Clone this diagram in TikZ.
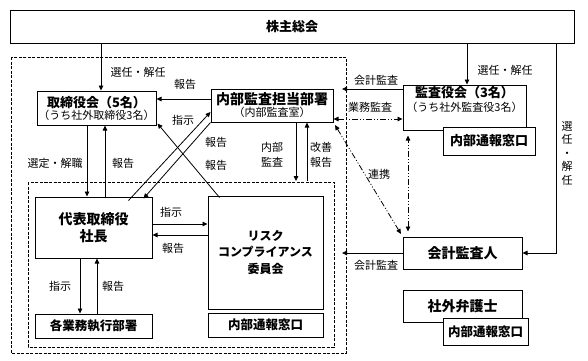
\documentclass[tikz,border=0pt]{standalone}
\usepackage{fontspec}
\setmainfont{Noto Sans CJK JP}
\usetikzlibrary{arrows.meta}
\tikzset{
  box/.style={draw=black, line width=1pt, fill=white, inner sep=0pt, align=center},
  ttl/.style={font=\fontsize{13}{16}\selectfont\bfseries},
  lbl/.style={font=\fontsize{11}{13}\selectfont, inner sep=0pt},
  arr/.style={line width=0.8pt, -{Triangle[length=5pt,width=4.5pt]}},
  darr/.style={line width=0.8pt, {Triangle[length=5pt,width=4.5pt]}-{Triangle[length=5pt,width=4.5pt]}},
  ddot/.style={dash pattern=on 6pt off 2pt on 1pt off 2pt on 1pt off 2pt},
  region/.style={draw=black, line width=0.8pt, dash pattern=on 3pt off 1.5pt},
}
\begin{document}
\begin{tikzpicture}[x=1pt,y=-1pt]
\useasboundingbox (0,0) rectangle (588,360);
% dashed regions
\draw[region] (11,57) rectangle (346,353);
\draw[region] (28,182) rectangle (334,347);
% boxes
\node[box, minimum width=564, minimum height=33, ttl] (sh) at (292,26.5) {株主総会};
\node[box, minimum width=119, minimum height=34] (tori) at (96.5,108)
  {{\fontsize{13}{14}\selectfont\bfseries 取締役会（5名）}\\[0pt]{\fontsize{11}{12}\selectfont （うち社外取締役3名）}};
\node[box, minimum width=122, minimum height=33] (naibu) at (272,105.5)
  {{\fontsize{14}{15}\selectfont\bfseries 内部監査担当部署}\\[0pt]{\fontsize{11}{12}\selectfont （内部監査室）}};
\node[box, minimum width=123, minimum height=45] (kansa) at (464.5,107.5)
  {{\fontsize{13}{14}\selectfont\bfseries 監査役会（3名）}\\[2pt]{\fontsize{11}{12}\selectfont （うち社外監査役3名）}\\[5pt]};
\node[box, minimum width=92, minimum height=28, font=\fontsize{13}{14}\selectfont\bfseries] (kmado) at (489,141) {内部通報窓口};
\node[box, minimum width=117, minimum height=61, font=\fontsize{14}{17}\selectfont\bfseries] (dai) at (93.5,227.5) {代表取締役\\社長};
\node[box, minimum width=115, minimum height=113, font=\fontsize{12}{16.5}\selectfont\bfseries] (risk) at (265.5,252.5) {リスク\\コンプライアンス\\委員会};
\node[box, minimum width=115, minimum height=24, font=\fontsize{12.5}{14}\selectfont\bfseries] (rmado) at (265.5,325) {内部通報窓口};
\node[box, minimum width=117, minimum height=24, font=\fontsize{12.5}{14}\selectfont\bfseries] (kaku) at (93.5,326) {各業務執行部署};
\node[box, minimum width=119, minimum height=32, font=\fontsize{14}{15}\selectfont\bfseries] (kaikei) at (462.5,253) {会計監査人};
\node[box, minimum width=119, minimum height=32, font=\fontsize{14}{15}\selectfont\bfseries] (bengo) at (462.5,306) {社外弁護士};
\node[box, minimum width=85, minimum height=27, font=\fontsize{12.5}{14}\selectfont\bfseries] (bmado) at (485.5,331.5) {内部通報窓口};
% free-end coordinates
\coordinate (ka1) at (342,89);
\coordinate (ka2) at (342,253);
\coordinate (ia1) at (296,181);
\coordinate (ia2) at (307,181);
% connectors
\draw[arr] (sh.south -| 101,0) -- (tori.north -| 101,0);
\node[lbl] (l1) at (138,72) {選任・解任};
\draw[arr] (sh.south -| 467,0) -- (kansa.north -| 467,0);
\node[lbl] (l2) at (505,70) {選任・解任};
\draw[arr] (sh.south -| 556,0) |- (kaikei.east);
\node[lbl, align=center, font=\fontsize{11}{13.5}\selectfont] (l3) at (567,153) {選\\任\\・\\解\\任};
\draw[arr] (naibu.west |- 0,99) -- (tori.east |- 0,99);
\node[lbl] (l4) at (185,84) {報告};
\draw[arr] (kansa.west |- 0,89) -- (ka1);
\node[lbl] (l5) at (376,80) {会計監査};
\draw[darr, ddot] (naibu.east |- 0,119) -- (kansa.west |- 0,119);
\node[lbl] (l6) at (370,107) {業務監査};
\draw[arr] (tori.south -| 87,0) -- (dai.north -| 87,0);
\node[lbl] (l7) at (55,163) {選定・解職};
\draw[arr] (dai.north -| 105,0) -- (tori.south -| 105,0);
\node[lbl] (l8) at (123,163) {報告};
\draw[arr] ([xshift=35pt,yshift=-4pt]dai.north) -- (naibu.west |- 0,112);
\node[lbl] (l9) at (183,120) {指示};
\draw[arr] (naibu.south west) -- ([xshift=50pt,yshift=-2pt]dai.north);
\node[lbl] (l10) at (216,142) {報告};
\draw[arr] ([xshift=12pt,yshift=-2pt]risk.north west) -- ([xshift=1pt,yshift=2pt]tori.south east);
\node[lbl] (l11) at (216,165) {報告};
\draw[arr] (naibu.south -| 296,0) -- (ia1);
\node[lbl, align=center, font=\fontsize{11}{15}\selectfont] (l12) at (272,155) {内部\\監査};
\draw[arr] (ia2) -- (naibu.south -| 307,0);
\node[lbl, align=center, font=\fontsize{11}{15}\selectfont] (l13) at (321,155) {改善\\報告};
\draw[darr, ddot, shorten <=3pt, shorten >=3pt] (naibu.south east) -- (kaikei.north west);
\node[lbl] (l14) at (379,174) {連携};
\draw[darr, ddot, shorten <=5pt, shorten >=5pt] (kaikei.north -| 408,0) -- (kansa.south -| 408,0);
\draw[arr] (dai.east |- 0,224) -- (risk.west |- 0,224);
\node[lbl] (l15) at (171,212) {指示};
\draw[arr] (risk.west |- 0,235) -- (dai.east |- 0,235);
\node[lbl] (l16) at (173,248) {報告};
\draw[arr] (dai.south -| 80,0) -- (kaku.north -| 80,0);
\node[lbl] (l17) at (60,286) {指示};
\draw[arr] (kaku.north -| 97,0) -- (dai.south -| 97,0);
\node[lbl] (l18) at (113,286) {報告};
\draw[arr] (kaikei.west) -- (ka2);
\node[lbl] (l19) at (376,265) {会計監査};
\end{tikzpicture}
\end{document}
